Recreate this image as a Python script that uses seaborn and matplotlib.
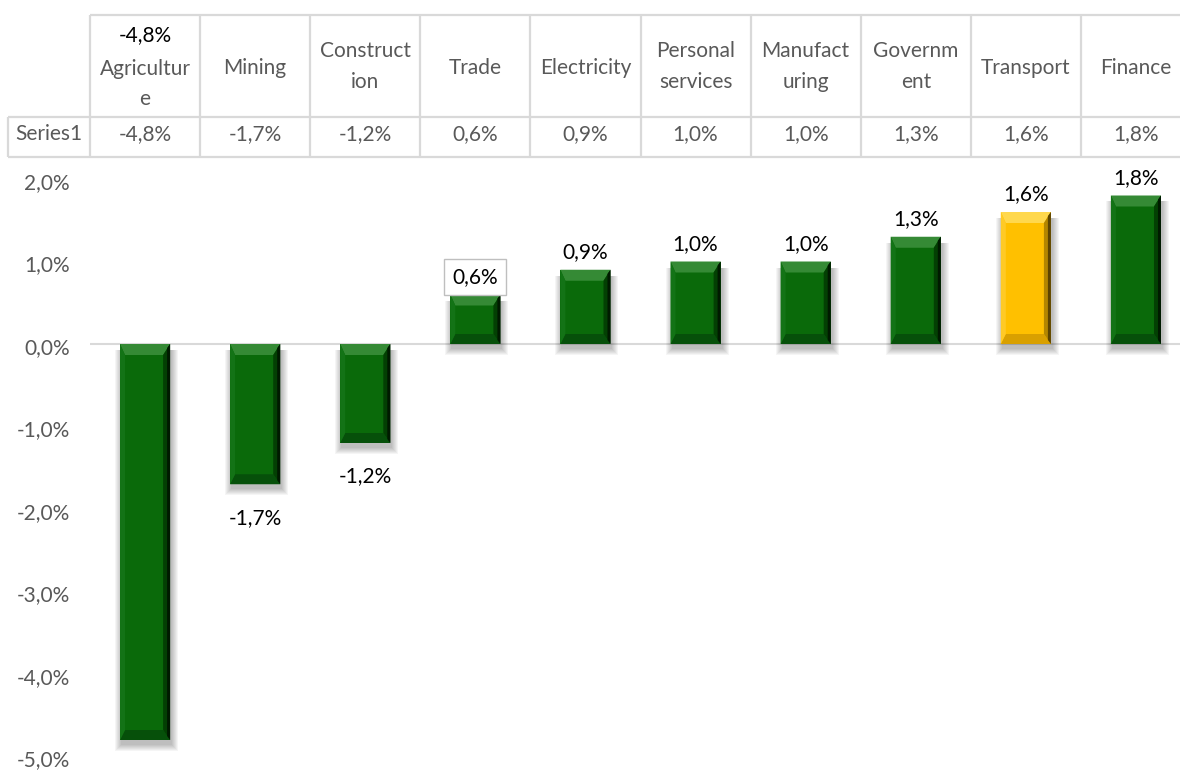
import matplotlib
matplotlib.use("Agg")
import matplotlib.pyplot as plt
import seaborn as sns
import pandas as pd
from matplotlib.patches import Polygon
from matplotlib.transforms import ScaledTranslation

# ---- data -------------------------------------------------------------
categories = ["Agriculture", "Mining", "Construction", "Trade", "Electricity",
              "Personal services", "Manufacturing", "Government", "Transport", "Finance"]
growth = [-4.8, -1.7, -1.2, 0.6, 0.9, 1.0, 1.0, 1.3, 1.6, 1.8]
header_lines = [["Agricultur", "e"], ["Mining"], ["Construct", "ion"], ["Trade"],
                ["Electricity"], ["Personal", "services"], ["Manufact", "uring"],
                ["Governm", "ent"], ["Transport"], ["Finance"]]
series_name = "Series1"
y_ticks = [-5, -4, -3, -2, -1, 0, 1, 2]
y_tick_labels = ["-5,0%", "-4,0%", "-3,0%", "-2,0%", "-1,0%", "0,0%", "1,0%", "2,0%"]
highlight = "Transport"
moved_label = "Agriculture"   # its value label sits in the table header
boxed_label = "Trade"          # its value label carries a frame

# ---- style ------------------------------------------------------------
sns.set_theme(style="white")
plt.rcParams["font.family"] = ["Lato", "DejaVu Sans"]
FS = 15
GREY_TXT = "#595959"
GRID = "#d9d9d9"

GREEN = dict(body="#0a6a0a", top="#358a35", left="#137316", bottom="#06500a",
             right_in="#034003", right_out="#001a00")
GOLD = dict(body="#ffc000", top="#ffd84d", left="#ffca26", bottom="#d9a000",
            right_in="#b38600", right_out="#5c4400")


def pct(v):
    return f"{v:.1f}%".replace(".", ",")


W, H, DPI = 1180, 771, 100
fig = plt.figure(figsize=(W / DPI, H / DPI), dpi=DPI)
fig.patch.set_facecolor("white")

LEFT_PX, COL_W = 90, 110.1
ax = fig.add_axes([LEFT_PX / W, (H - 756.5) / H, 10 * COL_W / W, 577.5 / H])

df = pd.DataFrame({"sector": categories, "growth": growth})
palette = {c: (GOLD["body"] if c == highlight else GREEN["body"]) for c in categories}
sns.barplot(data=df, x="sector", y="growth", hue="sector", palette=palette,
            width=0.455, saturation=1, legend=False, ax=ax, edgecolor="none",
            zorder=3)

ax.set_xlim(-0.5, 9.5)
ax.set_ylim(-5, 2)
ax.set_xlabel("")
ax.set_ylabel("")
ax.set_xticks([])
ax.set_yticks(y_ticks)
ax.set_yticklabels(y_tick_labels)
ax.tick_params(axis="y", length=0, pad=14.4, labelsize=FS, labelcolor=GREY_TXT)
for lab in ax.get_yticklabels():
    lab.set_verticalalignment("baseline")
    lab.set_transform(lab.get_transform() + ScaledTranslation(0, -10 / DPI, fig.dpi_scale_trans))
for s in ax.spines.values():
    s.set_visible(False)
ax.set_facecolor("none")
ax.axhline(0, color=GRID, lw=1.5, zorder=1)

to_disp = ax.transData
to_data = ax.transData.inverted()


def poly(pts_px, color, z, alpha=1.0):
    pts = to_data.transform(pts_px)
    ax.add_patch(Polygon(pts, closed=True, facecolor=color, edgecolor="none",
                         zorder=z, alpha=alpha, clip_on=False))


# bevel, shadow and value label for each bar
for patch, cat, val in zip(ax.patches, categories, growth):
    x, w = patch.get_x(), patch.get_width()
    y0, h = patch.get_y(), patch.get_height()
    (L, B) = to_disp.transform((x, min(y0, y0 + h)))
    (R, T) = to_disp.transform((x + w, max(y0, y0 + h)))
    c = GOLD if cat == highlight else GREEN

    # soft drop shadow
    for k in range(7, 0, -1):
        poly([(L - k + 2, B - 4 - k), (R + k + 1, B - 4 - k),
              (R + k + 1, T - 6), (L - k + 2, T - 6)], "black", 2, alpha=0.04)

    t, b, l, r = 11, 10, 5, 7
    poly([(L, T), (R, T), (R - r, T - t), (L + l, T - t)], c["top"], 4)
    poly([(L, B), (R, B), (R - r, B + b), (L + l, B + b)], c["bottom"], 4)
    poly([(L, T), (L + l, T - t), (L + l, B + b), (L, B)], c["left"], 4)
    poly([(R, T), (R - r, T - t), (R - r, B + b), (R, B)], c["right_in"], 4)
    poly([(R, T), (R - 3, T - 4), (R - 3, B + 4), (R, B)], c["right_out"], 5)

    if cat == moved_label:
        continue
    if val >= 0:
        kw = dict(xytext=(0, 11.5), va="baseline")
    else:
        kw = dict(xytext=(0, -39.5), va="baseline")
    bbox = None
    if cat == boxed_label:
        bbox = dict(boxstyle="square,pad=0.4", facecolor="white", edgecolor="#bfbfbf", lw=1)
    ax.annotate(pct(val), (x + w / 2, val), textcoords="offset pixels", ha="center",
                fontsize=FS, color="black", bbox=bbox, zorder=6, annotation_clip=False,
                **kw)

# ---- data table above the plot ----------------------------------------
tab = fig.add_axes([LEFT_PX / W, (H - 160) / H, 10 * COL_W / W, 150 / H])
tab.set_xlim(-0.5, 9.5)
tab.set_ylim(160, 10)
tab.axis("off")

X_ROWHEAD = -0.5 + (8 - LEFT_PX) / COL_W
X_END = 9.7
Y_TOP, Y_MID, Y_BOT = 15, 116.7, 156.7
lk = dict(color=GRID, lw=1.6, clip_on=False, solid_capstyle="butt")
tab.plot([-0.5, X_END], [Y_TOP, Y_TOP], **lk)
tab.plot([X_ROWHEAD, X_END], [Y_MID, Y_MID], **lk)
tab.plot([X_ROWHEAD, X_END], [Y_BOT, Y_BOT], **lk)
tab.plot([X_ROWHEAD, X_ROWHEAD], [Y_MID, Y_BOT], **lk)
for k in range(11):
    tab.plot([k - 0.5, k - 0.5], [Y_TOP, Y_BOT], **lk)

baselines = {1: [74], 2: [57, 88]}
for i, (cat, lines, val) in enumerate(zip(categories, header_lines, growth)):
    ys = [75, 105] if cat == moved_label else baselines[len(lines)]
    for line, yb in zip(lines, ys):
        tab.text(i, yb, line, ha="center", va="baseline", fontsize=FS, color=GREY_TXT)
    if cat == moved_label:
        tab.text(i, 41, pct(val), ha="center", va="baseline", fontsize=FS, color="black")
    tab.text(i, 140, pct(val), ha="center", va="baseline", fontsize=FS, color=GREY_TXT)

tab.text((X_ROWHEAD - 0.5) / 2, 140, series_name, ha="center", va="baseline",
         fontsize=FS, color=GREY_TXT, clip_on=False)

fig.savefig("out.png", dpi=DPI)
